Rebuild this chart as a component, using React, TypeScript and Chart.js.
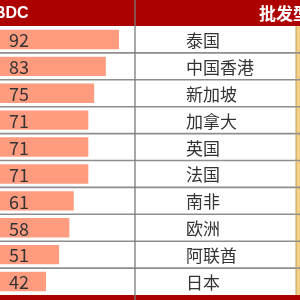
import React, { useEffect, useRef } from "react";
import { Chart, registerables } from "chart.js";

Chart.register(...registerables);

const categories = ["泰国", "中国香港", "新加坡", "加拿大", "英国", "法国", "南非", "欧洲", "阿联酋", "日本"];
const values = [92, 83, 75, 71, 71, 71, 61, 58, 51, 42];
const headerLeft = "BDC";
const headerRight = "批发型";

const RED = "#ad0000";
const BAR = "#ff9c80";
const GRID = "#8e8e8e";

const tablePlugin = {
  id: "tablePlugin",
  beforeDatasetsDraw(chart: any) {
    const { ctx, chartArea, scales } = chart;
    const W = chart.width;
    const H = chart.height;
    ctx.save();
    // header band
    ctx.fillStyle = RED;
    ctx.fillRect(0, 0, W, chartArea.top);
    // bottom band
    ctx.fillRect(0, chartArea.bottom, W, H - chartArea.bottom);
    // yellow strip on the right
    ctx.fillStyle = "#f4d186";
    ctx.fillRect(296, chartArea.top, W - 296, chartArea.bottom - chartArea.top);
    // row separators
    const y = scales.y;
    ctx.strokeStyle = GRID;
    ctx.lineWidth = 1.6;
    for (let i = 0; i < categories.length - 1; i++) {
      const p = (y.getPixelForValue(i) + y.getPixelForValue(i + 1)) / 2;
      ctx.beginPath();
      ctx.moveTo(0, p);
      ctx.lineTo(W, p);
      ctx.stroke();
    }
    ctx.restore();
  },
  afterDatasetsDraw(chart: any) {
    const { ctx, chartArea, scales } = chart;
    const H = chart.height;
    const meta = chart.getDatasetMeta(0);
    ctx.save();
    // column divider
    ctx.strokeStyle = "#7a7a7a";
    ctx.lineWidth = 1.3;
    ctx.beginPath();
    ctx.moveTo(135, 0);
    ctx.lineTo(135, H);
    ctx.stroke();
    ctx.strokeStyle = "#b8a060";
    ctx.lineWidth = 1;
    ctx.beginPath();
    ctx.moveTo(296, chartArea.top);
    ctx.lineTo(296, chartArea.bottom);
    ctx.stroke();
    // header texts
    ctx.fillStyle = "#ffffff";
    ctx.textBaseline = "middle";
    ctx.textAlign = "left";
    ctx.font = "bold 16px 'Liberation Sans', 'Noto Sans CJK SC', sans-serif";
    ctx.fillText(headerLeft, -6, chartArea.top / 2 + 1);
    ctx.font = "bold 17px 'Noto Sans CJK SC', sans-serif";
    ctx.fillText(headerRight, 259, chartArea.top / 2 + 1);
    // values
    ctx.fillStyle = "#333333";
    ctx.font = "18px 'Liberation Sans Narrow', 'Noto Sans CJK SC', sans-serif";
    meta.data.forEach((bar: any, i: number) => {
      ctx.fillText(String(values[i]), 9, bar.y + 1);
    });
    // category labels
    ctx.font = "17px 'Noto Sans CJK SC', sans-serif";
    const y = scales.y;
    categories.forEach((c, i) => {
      ctx.fillText(c, 186, y.getPixelForValue(i) + 1);
    });
    ctx.restore();
  },
};

export default function App() {
  const ref = useRef<HTMLCanvasElement>(null);
  useEffect(() => {
    if (!ref.current) return;
    const chart = new Chart(ref.current, {
      type: "bar",
      data: {
        labels: categories,
        datasets: [
          {
            data: values,
            backgroundColor: BAR,
            borderWidth: 0,
            barPercentage: 0.72,
            categoryPercentage: 1,
          },
        ],
      },
      options: {
        indexAxis: "y",
        responsive: false,
        animation: false,
        layout: { padding: { top: 26, bottom: 5, left: 0, right: 0 } },
        plugins: { legend: { display: false }, tooltip: { enabled: false } },
        scales: {
          x: { display: false, min: 10.5, max: 216 },
          y: { display: false },
        },
      },
      plugins: [tablePlugin],
    });
    return () => chart.destroy();
  }, []);
  return (
    <div style={{ position: "fixed", left: 0, top: 0, width: 300, height: 300, background: "#fff", overflow: "hidden" }}>
      <canvas ref={ref} width={300} height={300} style={{ display: "block" }} />
    </div>
  );
}
